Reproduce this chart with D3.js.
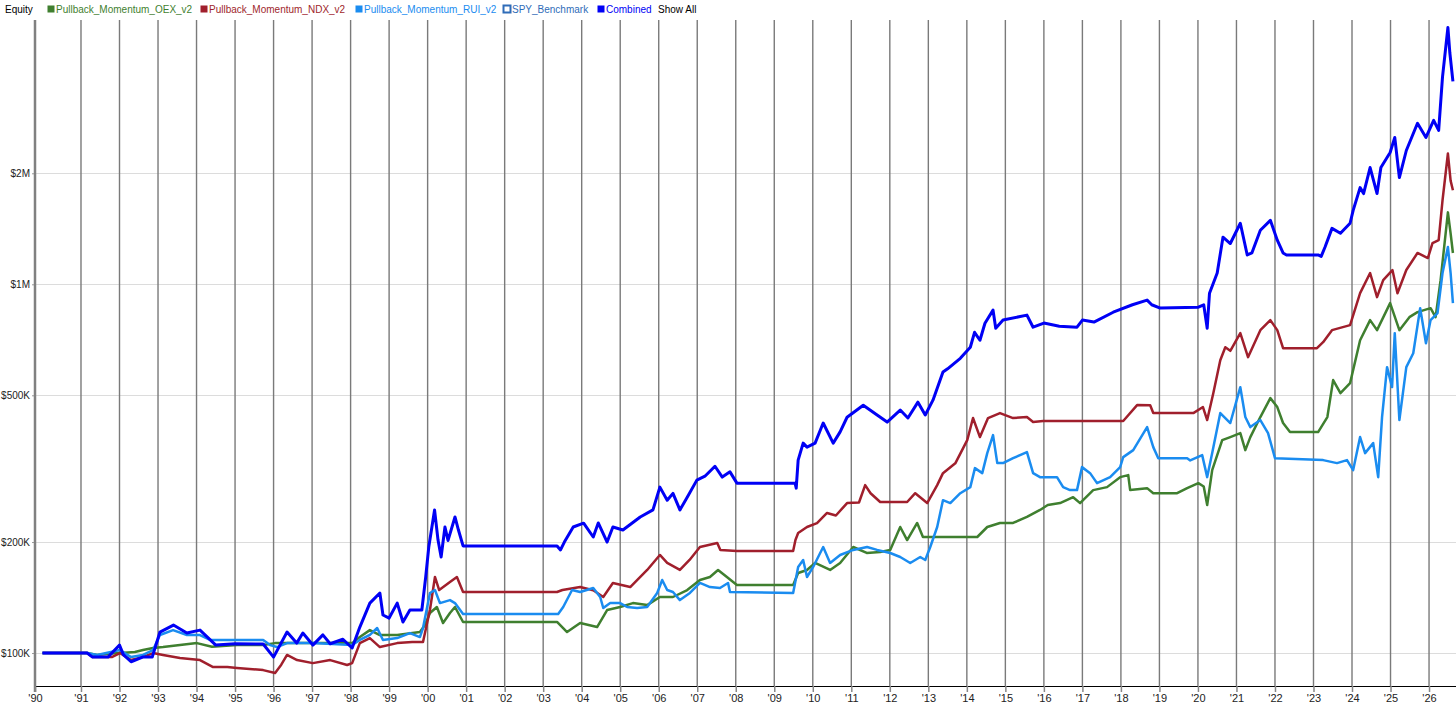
<!DOCTYPE html>
<html><head><meta charset="utf-8">
<script src="https://cdn.jsdelivr.net/npm/d3@7/dist/d3.min.js"></script>
<style>
body{margin:0;background:#fff;}
svg{display:block;font-family:"Liberation Sans",Arial,sans-serif;}
</style></head><body>
<svg id="c" width="1456" height="707"></svg>
<script>
// ---- data (values in $ thousands, dates as decimal years) ----
const yearTicks = d3.range(1991, 2027);
const firstYearLabel = "'90";
const yTickValues = [100, 200, 500, 1000, 2000];
const yTickLabels = ["$100K", "$200K", "$500K", "$1M", "$2M"];
const legendNames = ["Pullback_Momentum_OEX_v2", "Pullback_Momentum_NDX_v2", "Pullback_Momentum_RUI_v2", "SPY_Benchmark", "Combined"];

const oex = [[1990.0,100],[1991.16,100],[1991.42,98.8],[1991.7,99.5],[1992.01,100],[1992.4,100.6],[1992.61,101.9],[1992.87,103.2],[1993.13,103.8],[1993.57,105.1],[1994.01,106.4],[1994.4,104],[1995.05,105.1],[1995.73,105.1],[1996.04,106.4],[1996.35,106.4],[1997.02,106.4],[1998.04,106.4],[1998.24,110.5],[1998.5,115.4],[1998.76,111.9],[1999.21,112],[1999.8,114],[1999.93,119.1],[2000.06,128.4],[2000.24,133.3],[2000.4,120.6],[2000.58,128.4],[2000.71,133.3],[2000.92,121.4],[2003.36,121.4],[2003.62,114.0],[2003.96,120.6],[2004.4,117.6],[2004.66,130.8],[2005.0,133.3],[2005.33,136.6],[2005.7,134.9],[2006.03,141.9],[2006.37,141.9],[2006.74,148.2],[2007.07,157.8],[2007.33,160.8],[2007.54,168],[2007.77,160.8],[2008.03,152.9],[2009.49,152.9],[2009.62,164.9],[2009.85,168],[2010.06,175.5],[2010.45,168],[2010.71,175.5],[2011.05,193.9],[2011.4,186.8],[2011.75,188],[2012.01,190.4],[2012.27,219.7],[2012.45,202.5],[2012.71,225.3],[2012.86,206.4],[2014.27,206.4],[2014.53,219.7],[2014.86,225.3],[2015.2,225.3],[2015.56,233.9],[2015.9,244.4],[2016.1,252],[2016.42,255.1],[2016.76,264.6],[2016.94,255],[2017.28,276.6],[2017.64,281.8],[2017.98,299.9],[2018.19,303.7],[2018.24,276.6],[2018.68,280],[2018.84,271.3],[2019.46,271.3],[2019.72,280],[2020.01,288.9],[2020.15,283],[2020.24,252],[2020.37,313.4],[2020.63,378],[2020.84,385.2],[2021.1,394.9],[2021.23,355.1],[2021.36,385],[2021.62,436.5],[2021.88,491.4],[2022.06,464.6],[2022.21,420.5],[2022.39,397.4],[2023.12,397.4],[2023.36,436.5],[2023.51,549.8],[2023.7,507],[2023.95,539.6],[2024.21,705.4],[2024.47,799.5],[2024.65,751],[2024.99,888.9],[2025.23,751],[2025.49,814.6],[2025.7,840.4],[2026.04,861.6],[2026.17,814.6],[2026.3,1026],[2026.49,1567],[2026.56,1375],[2026.62,1216]];

const ndx = [[1990.0,100],[1991.16,100],[1991.3,97.5],[1991.8,97.5],[1992.01,100],[1992.3,95.7],[1992.6,97.5],[1992.87,100],[1993.13,98.8],[1993.57,96.9],[1994.09,95.7],[1994.43,91.6],[1994.8,91.6],[1995.05,91.1],[1995.73,89.9],[1996.04,88.3],[1996.2,93],[1996.35,98.8],[1996.61,95.7],[1997.02,93.9],[1997.47,95.7],[1997.91,92.8],[1998.04,93.9],[1998.24,106.4],[1998.5,109.8],[1998.76,103.8],[1999.21,106.4],[1999.6,107.1],[1999.88,107.1],[2000.06,130.8],[2000.19,160.8],[2000.3,148.2],[2000.58,155.8],[2000.76,160.8],[2000.92,146.4],[2003.36,146.4],[2003.5,148.2],[2003.96,151],[2004.3,148],[2004.56,141.9],[2004.81,154.9],[2005.26,151],[2005.7,168],[2006.03,184.5],[2006.22,175.5],[2006.55,168],[2006.8,178.8],[2007.07,193.9],[2007.52,198.7],[2007.6,190.4],[2008.03,189.2],[2009.49,189.2],[2009.55,202.5],[2009.62,211.6],[2009.85,219.7],[2010.11,225],[2010.37,239.8],[2010.6,236],[2010.89,255.1],[2011.2,256],[2011.36,285.3],[2011.5,271.3],[2011.75,256.8],[2012.45,256.8],[2012.66,271.3],[2012.97,255.1],[2013.23,285.3],[2013.38,307.5],[2013.7,327],[2014.01,378],[2014.16,433.8],[2014.34,385.2],[2014.55,433.8],[2014.86,447.5],[2015.2,433.8],[2015.56,436.5],[2015.72,423],[2015.98,425.8],[2018.06,425.8],[2018.42,470.4],[2018.76,470],[2018.84,447.5],[2019.88,447.5],[2020.13,464.6],[2020.24,428.5],[2020.4,507],[2020.58,622.6],[2020.71,675.2],[2020.84,660],[2021.1,737],[2021.3,634.4],[2021.62,751],[2021.88,799.5],[2022.06,751],[2022.21,671],[2023.09,671],[2023.25,696.6],[2023.48,751],[2023.95,774.8],[2024.21,946.3],[2024.47,1073],[2024.65,923],[2024.81,1026],[2025.05,1093],[2025.18,946],[2025.41,1093],[2025.7,1216],[2025.97,1178],[2026.09,1293],[2026.25,1317],[2026.35,1688],[2026.49,2263],[2026.56,1911],[2026.62,1800]];

const rui = [[1990.0,100],[1991.16,100],[1991.42,98.8],[1992.01,101.9],[1992.3,97.5],[1992.61,98.8],[1992.87,101.9],[1993.05,111.9],[1993.39,115.4],[1993.75,111.9],[1994.09,111.9],[1994.35,108.5],[1995.73,108.5],[1995.91,105.1],[1996.09,103.8],[1996.35,106.4],[1997.02,106.4],[1998.04,105.1],[1998.24,108.5],[1998.5,112],[1998.69,116.9],[1998.84,108.5],[1999.21,109.8],[1999.54,113.3],[1999.8,110.5],[1999.88,116.9],[2000.06,145.5],[2000.19,148.2],[2000.32,136.6],[2000.58,139.2],[2000.71,136.6],[2000.92,127.6],[2003.39,127.6],[2003.52,133.3],[2003.75,148.2],[2003.96,146.4],[2004.3,150.1],[2004.48,141.9],[2004.56,132.5],[2004.74,136.6],[2005.0,136.6],[2005.18,133.3],[2005.44,132.5],[2005.7,133.3],[2005.96,145.5],[2006.09,157.8],[2006.22,148.2],[2006.37,146.4],[2006.55,139.2],[2006.81,145.5],[2007.07,154.9],[2007.33,151],[2007.59,150.1],[2007.8,154.9],[2007.85,146.4],[2009.49,145.5],[2009.62,171.2],[2009.75,178.8],[2009.85,160.8],[2010.01,171.2],[2010.27,193.9],[2010.45,175.5],[2010.71,184.5],[2011.05,190.4],[2011.41,193.9],[2011.67,190.4],[2012.01,186.8],[2012.27,182.2],[2012.53,175.5],[2012.79,182.2],[2012.92,178.8],[2013.05,193.9],[2013.23,219.7],[2013.38,259.7],[2013.57,255.1],[2013.83,271.3],[2014.09,281.8],[2014.21,317.3],[2014.4,307.5],[2014.53,348.5],[2014.68,390],[2014.79,327.4],[2014.94,327.4],[2015.2,337.7],[2015.56,350.6],[2015.72,307.5],[2015.9,299.9],[2016.34,299.9],[2016.5,281.8],[2016.68,276.6],[2016.86,276.6],[2016.99,319.3],[2017.2,307.5],[2017.38,288.9],[2017.72,299.9],[2017.98,319.3],[2018.06,339.9],[2018.32,355.1],[2018.68,410],[2018.84,361.8],[2018.97,337.7],[2019.72,337.7],[2019.8,333],[2020.11,344.1],[2020.24,300],[2020.37,348.5],[2020.58,447.5],[2020.84,420.5],[2021.1,526],[2021.23,436.5],[2021.36,410],[2021.62,428.5],[2021.82,394.9],[2022.0,337.7],[2023.25,333.6],[2023.61,327.4],[2023.87,333.6],[2024.03,313.4],[2024.21,385.2],[2024.34,348.5],[2024.55,371],[2024.68,299.9],[2024.78,436.5],[2024.91,596],[2025.04,526.3],[2025.11,737],[2025.23,428.5],[2025.41,596],[2025.59,650],[2025.77,861.6],[2025.92,692],[2026.04,800],[2026.22,835],[2026.35,1073],[2026.49,1262],[2026.56,1073],[2026.62,888.9]];

const combined = [[1990.0,100],[1991.16,100],[1991.3,97.5],[1991.7,97.5],[1992.0,105.1],[1992.1,99],[1992.3,94.7],[1992.6,97.5],[1992.85,97.5],[1993.05,114],[1993.4,119.1],[1993.75,113.3],[1994.09,115.4],[1994.5,105.1],[1995.0,106],[1995.73,105.8],[1996.0,97.5],[1996.35,114],[1996.6,106.4],[1996.76,113.3],[1997.02,105.1],[1997.28,112],[1997.47,106],[1997.8,109],[1998.04,103.2],[1998.24,117.6],[1998.5,136.6],[1998.76,145.5],[1998.84,126.8],[1999.0,124.4],[1999.21,136.6],[1999.36,121.4],[1999.54,130.8],[1999.85,130.8],[1999.95,160.8],[2000.03,193.9],[2000.18,244.4],[2000.27,202.5],[2000.35,182.2],[2000.45,219.7],[2000.53,202],[2000.71,233.9],[2000.8,215.6],[2000.92,195.2],[2003.36,195.2],[2003.45,190.4],[2003.55,200],[2003.78,219.7],[2004.05,225],[2004.3,206.4],[2004.43,225.3],[2004.66,200],[2004.81,219.7],[2005.07,215.6],[2005.52,233.9],[2005.85,244.4],[2006.03,281.8],[2006.22,259.7],[2006.37,271],[2006.55,244.4],[2006.74,264.6],[2006.99,294.4],[2007.2,301.7],[2007.46,321],[2007.65,300],[2007.85,310],[2008.03,288.9],[2009.54,288.9],[2009.57,280],[2009.62,333.6],[2009.75,371],[2009.85,361.8],[2010.06,371],[2010.27,420.5],[2010.53,371],[2010.71,398],[2010.89,436],[2011.31,470],[2011.67,442],[2011.93,423],[2012.27,456],[2012.47,434],[2012.73,479],[2012.92,442],[2013.12,485],[2013.38,578],[2013.5,590],[2013.83,630],[2014.09,675],[2014.2,741],[2014.34,705],[2014.47,784],[2014.68,851],[2014.75,760],[2014.94,800],[2015.56,825],[2015.72,765],[2016.0,785],[2016.4,770],[2016.86,765],[2017.0,800],[2017.3,790],[2017.8,840],[2018.3,880],[2018.68,906],[2018.8,880],[2019.02,862],[2020.01,867],[2020.15,880],[2020.24,760],[2020.3,946],[2020.5,1073],[2020.65,1342],[2020.84,1290],[2021.1,1464],[2021.28,1201],[2021.4,1216],[2021.62,1401],[2021.88,1491],[2022.06,1317],[2022.21,1216],[2022.3,1201],[2023.12,1201],[2023.2,1190],[2023.3,1262],[2023.48,1418],[2023.7,1375],[2023.95,1464],[2024.03,1586],[2024.21,1829],[2024.3,1762],[2024.47,2073],[2024.65,1762],[2024.75,2073],[2024.99,2277],[2025.11,2502],[2025.23,1947],[2025.41,2306],[2025.7,2733],[2025.92,2502],[2026.12,2784],[2026.25,2615],[2026.35,3653],[2026.49,4970],[2026.54,4245],[2026.62,3550]];

// ---- layout ----
const W = 1456, H = 707;
const M = {left: 35, right: 0, top: 20, bottom: 21};
const svg = d3.select("#c");

const x = d3.scaleLinear().domain([1989.806, 2026.70]).range([M.left, W - M.right]);
const y = d3.scaleLog().domain([81.4, 5209]).range([H - M.bottom, M.top]);

const colors = {oex: "#3f7f2f", ndx: "#a01f2c", rui: "#1a8cf0", spy: "#2f6cb8", comb: "#0000f5"};
const FONT = "'Liberation Sans',Arial,sans-serif";

// horizontal gridlines
svg.append("g").selectAll("line").data(yTickValues).join("line")
  .attr("x1", M.left).attr("x2", W - M.right)
  .attr("y1", d => Math.round(y(d)) + 0.5).attr("y2", d => Math.round(y(d)) + 0.5)
  .attr("stroke", "#dcdcdc").attr("stroke-width", 1);

// vertical gridlines
svg.append("g").selectAll("line").data(yearTicks).join("line")
  .attr("x1", d => x(d)).attr("x2", d => x(d))
  .attr("y1", M.top).attr("y2", H - M.bottom)
  .attr("stroke", "#7a7a7a").attr("stroke-width", 1.4);

// series
const line = d3.line().x(d => x(d[0])).y(d => y(d[1]));
const series = [
  {data: oex, color: colors.oex, w: 2.5},
  {data: ndx, color: colors.ndx, w: 2.5},
  {data: rui, color: colors.rui, w: 2.5},
  {data: combined, color: colors.comb, w: 3}
];
svg.append("g").selectAll("path").data(series).join("path")
  .attr("d", d => line(d.data))
  .attr("fill", "none").attr("stroke", d => d.color)
  .attr("stroke-width", d => d.w).attr("stroke-linejoin", "round");

// y axis
const yAxis = d3.axisLeft(y).tickValues(yTickValues)
  .tickFormat((d, i) => yTickLabels[i]).tickSize(3).tickPadding(2);
const gy = svg.append("g").attr("transform", `translate(${M.left},0)`).call(yAxis);
gy.select(".domain").remove();
gy.selectAll(".tick line").attr("stroke", "#999");
gy.selectAll(".tick text").attr("font-size", 10).attr("fill", "#222").attr("font-family", FONT);
svg.append("line").attr("x1", M.left).attr("x2", M.left)
  .attr("y1", M.top).attr("y2", H - M.bottom + 6)
  .attr("stroke", "#808080").attr("stroke-width", 2.5);

// x axis
const xTickVals = [x.domain()[0]].concat(yearTicks);
const xAxis = d3.axisBottom(x).tickValues(xTickVals)
  .tickFormat((d, i) => i === 0 ? firstYearLabel : "'" + String(d % 100).padStart(2, "0"))
  .tickSize(6).tickPadding(2).tickSizeOuter(0);
const gx = svg.append("g").attr("transform", `translate(0,${H - M.bottom})`).call(xAxis);
gx.select(".domain").attr("stroke", "#000").attr("stroke-width", 1.2);
gx.selectAll(".tick line").attr("stroke", "#888").attr("stroke-width", 1.5);
gx.selectAll(".tick text").attr("font-size", 11).attr("fill", "#222").attr("font-family", FONT);

// legend
const lg = svg.append("g").attr("font-size", 10).attr("font-family", FONT);
lg.append("text").attr("x", 5).attr("y", 13).attr("fill", "#000").text("Equity");
const legendColors = [colors.oex, colors.ndx, colors.rui, colors.spy, colors.comb];
const legendFilled = [true, true, true, false, true];
const legendX = [47, 200, 355, 503, 597];
legendNames.forEach((n, i) => {
  const lx = legendX[i];
  lg.append("rect").attr("x", lx + 0.5).attr("y", 5.5).attr("width", 7).attr("height", 7)
    .attr("fill", legendFilled[i] ? legendColors[i] : "#fff")
    .attr("stroke", legendColors[i]).attr("stroke-width", legendFilled[i] ? 0 : 2);
  lg.append("text").attr("x", lx + 9).attr("y", 13).attr("fill", legendColors[i]).text(n);
});
lg.append("text").attr("x", 658).attr("y", 13).attr("fill", "#000").text("Show All");
</script>
</body></html>
